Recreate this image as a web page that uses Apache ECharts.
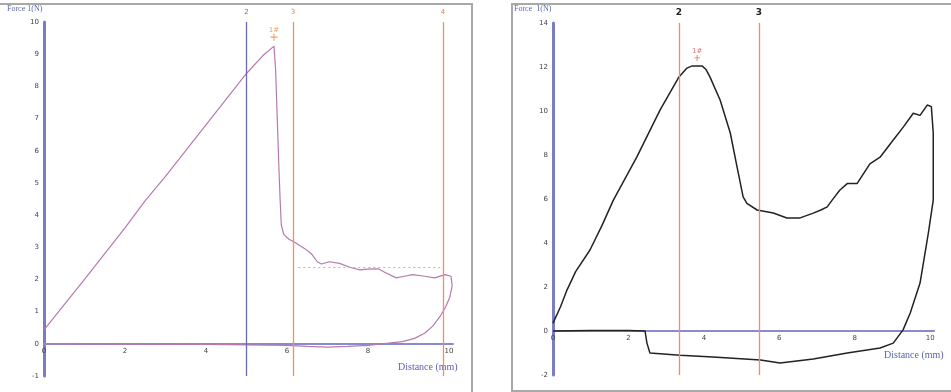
<!DOCTYPE html>
<html><head><meta charset="utf-8">
<script src="https://cdn.jsdelivr.net/npm/echarts@6/dist/echarts.min.js"></script>
<style>html,body{margin:0;padding:0;background:#fff}#c{width:951px;height:392px}</style>
</head><body><div id="c"></div>
<script>
// ---- data ----
const leftXTicks = [0, 2, 4, 6, 8, 10];
const leftYTicks = [-1, 0, 1, 2, 3, 4, 5, 6, 7, 8, 9, 10];
const rightXTicks = [0, 2, 4, 6, 8, 10];
const rightYTicks = [-2, 0, 2, 4, 6, 8, 10, 12, 14];

const leftCurve = [
  [0,0.43],[1,2.0],[2,3.6],[2.5,4.45],[3,5.2],[4,6.8],[5,8.4],[5.4,8.95],[5.68,9.25],
  [5.72,8.5],[5.76,7],[5.8,5.5],[5.83,4.5],[5.86,3.7],[5.92,3.4],[6.05,3.25],[6.2,3.15],
  [6.45,2.95],[6.6,2.8],[6.75,2.55],[6.85,2.48],[7.05,2.55],[7.3,2.5],[7.55,2.38],[7.8,2.3],
  [8.0,2.32],[8.25,2.33],[8.45,2.2],[8.7,2.05],[8.9,2.1],[9.1,2.15],[9.4,2.1],[9.65,2.05],
  [9.9,2.15],[10.05,2.1],[10.08,1.8],[10.02,1.45],[9.92,1.15],[9.78,0.85],[9.6,0.55],
  [9.4,0.33],[9.15,0.17],[8.85,0.07],[8.5,0.02],[8,-0.05],[7.5,-0.08],[7,-0.1],[6.5,-0.08],
  [6,-0.05],[5,-0.03],[4,-0.02],[2,-0.01],[0,0]
];
const leftDashed = [[6.28,2.37],[9.85,2.37]];
const leftPeak = [[5.68,9.25]];
const leftMarkers = [{x:5, label:'2'}, {x:6.15, label:'3'}, {x:9.85, label:'4'}];

const rightCurve = [
  [0,0.36],[0.2,1.1],[0.37,1.86],[0.6,2.7],[0.98,3.68],[1.3,4.8],[1.6,5.95],[2.22,7.9],
  [2.84,10.05],[3.34,11.55],[3.55,11.95],[3.69,12.05],[3.95,12.05],[4.05,11.9],[4.16,11.55],
  [4.43,10.5],[4.7,9],[4.88,7.45],[5.04,6.1],[5.14,5.8],[5.41,5.5],[5.84,5.36],[6.2,5.14],
  [6.55,5.14],[6.9,5.36],[7.1,5.5],[7.27,5.64],[7.4,5.95],[7.6,6.4],[7.8,6.7],[8.06,6.7],
  [8.4,7.6],[8.67,7.9],[9.02,8.68],[9.3,9.3],[9.55,9.9],[9.73,9.8],[9.92,10.27],[10.03,10.2],
  [10.08,9],[10.08,5.95],[9.95,4.45],[9.73,2.18],[9.47,0.82],[9.28,0.05],[9.02,-0.55],
  [8.67,-0.77],[7.8,-1.0],[6.9,-1.27],[6.02,-1.45],[5.5,-1.32],[4.24,-1.18],[3.37,-1.1],
  [2.57,-1.0],[2.49,-0.55],[2.44,0],[2,0.02],[1,0.02],[0,0]
];
const rightPeak = [[3.82,12.05]];
const rightMarkers = [{x:3.34, label:'2'}, {x:5.46, label:'3'}];

// ---- chart ----
const chart = echarts.init(document.getElementById('c'));
const axisBlue = '#8a8ad0';
const plusPath = 'path://M4,0h1.4v4h4v1.4h-4v4h-1.4v-4h-4v-1.4h4z';

function xAxisDef(gi, ticks, offset){
  return {
    type:'value', gridIndex:gi, min:ticks[0], max:10.1, interval:2,
    position:'bottom', offset:offset,
    axisLine:{onZero:false, lineStyle:{color:axisBlue, width:2}},
    axisTick:{show:false}, splitLine:{show:false},
    axisLabel:{fontSize:7, color:'#444', margin:4, showMaxLabel:false,
      fontFamily:'DejaVu Sans'}
  };
}
function yAxisDef(gi, ticks){
  return {
    type:'value', gridIndex:gi, min:ticks[0], max:ticks[ticks.length-1],
    interval:ticks[1]-ticks[0],
    axisLine:{show:true, onZero:false, lineStyle:{color:'#7c7cc4', width:3}},
    axisTick:{show:false}, splitLine:{show:false},
    axisLabel:{fontSize:7, color:'#444', margin:5, fontFamily:'DejaVu Sans'}
  };
}
function markLineDef(markers, color, labelColor, bold, size){
  return {
    silent:true, symbol:'none', animation:false,
    data: markers.map(m => ({
      xAxis:m.x,
      lineStyle:{color: (typeof color === 'function') ? color(m) : color, width:1.3, type:'solid'},
      label:{show:true, position:'end', formatter:m.label, distance:6,
        fontSize:size, fontWeight: bold ? 'bold':'normal',
        color:(typeof labelColor === 'function') ? labelColor(m) : labelColor,
        fontFamily:'DejaVu Sans'}
    }))
  };
}

chart.setOption({
  animation:false,
  backgroundColor:'#fff',
  grid:[
    {left:44, top:22, width:409, height:354},
    {left:553, top:23, width:381, height:352}
  ],
  xAxis:[xAxisDef(0, leftXTicks, -32), xAxisDef(1, rightXTicks, -44)],
  yAxis:[yAxisDef(0, leftYTicks), yAxisDef(1, rightYTicks)],
  series:[
    {type:'line', xAxisIndex:0, yAxisIndex:0, data:leftCurve, showSymbol:false,
     lineStyle:{color:'#b67aae', width:1.2}, silent:true,
     markLine: markLineDef(leftMarkers,
       m => m.label === '2' ? '#6a6ab8' : '#ee9060',
       m => m.label === '2' ? '#6a6ab8' : '#e08050', false, 7)},
    {type:'line', xAxisIndex:0, yAxisIndex:0, data:leftDashed, showSymbol:false,
     lineStyle:{color:'#d8b060', width:1, type:[2,3]}, silent:true},
    {type:'scatter', xAxisIndex:0, yAxisIndex:0, data:leftPeak, symbol:plusPath,
     symbolSize:7, symbolOffset:[0,-9], itemStyle:{color:'#e08a40'}, silent:true,
     label:{show:true, position:'top', formatter:'1#', fontSize:7, color:'#e08a40',
       distance:0, fontFamily:'DejaVu Sans'}},
    {type:'line', xAxisIndex:1, yAxisIndex:1, data:rightCurve, showSymbol:false,
     lineStyle:{color:'#222', width:1.5}, silent:true,
     markLine: markLineDef(rightMarkers, '#e8906a', '#222', true, 9)},
    {type:'scatter', xAxisIndex:1, yAxisIndex:1, data:rightPeak, symbol:plusPath,
     symbolSize:6, symbolOffset:[0,-8], itemStyle:{color:'#e05050'}, silent:true,
     label:{show:true, position:'top', formatter:'1#', fontSize:7, color:'#e05050',
       distance:0, fontFamily:'DejaVu Sans'}}
  ],
  graphic:[
    {type:'polyline', silent:true, shape:{points:[[0,4],[472,4],[472,392]]},
     style:{stroke:'#a8a8a8', lineWidth:2, fill:null}},
    {type:'rect', silent:true, shape:{x:512, y:4, width:445, height:387},
     style:{stroke:'#a8a8a8', lineWidth:2, fill:null}},
    {type:'text', left:7, top:5, silent:true,
     style:{text:'Force 1(N)', fontSize:8, fill:'#5a64b0', fontFamily:'Liberation Serif'}},
    {type:'text', left:398, top:362, silent:true,
     style:{text:'Distance (mm)', fontSize:10, fill:'#5a64b0', fontFamily:'Liberation Serif'}},
    {type:'text', left:514, top:5, silent:true,
     style:{text:'Force  1(N)', fontSize:8, fill:'#5a64b0', fontFamily:'Liberation Serif'}},
    {type:'text', left:884, top:350, silent:true,
     style:{text:'Distance (mm)', fontSize:10, fill:'#5a64b0', fontFamily:'Liberation Serif'}}
  ]
});
</script></body></html>
